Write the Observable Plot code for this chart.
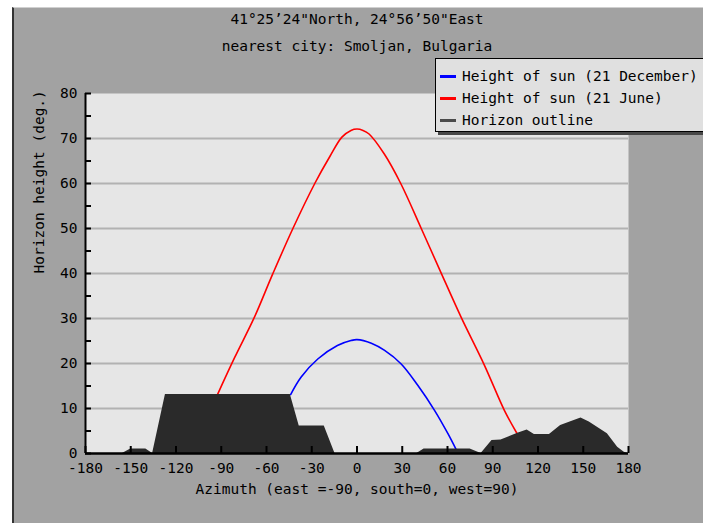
<!DOCTYPE html>
<html><head><meta charset="utf-8">
<script src="https://cdn.jsdelivr.net/npm/d3@7"></script>
<script src="https://cdn.jsdelivr.net/npm/@observablehq/plot@0.6"></script>
<style>
body{margin:0;background:#fff;}
#wrap{position:relative;width:703px;height:523px;overflow:hidden;background:#fff;font-family:"DejaVu Sans Mono",monospace;}
#panel{position:absolute;left:12px;top:7px;right:0;bottom:0;background:#a2a2a2;border-left:2px solid #333;border-top:1px solid #d0d0d0;}
#chart{position:absolute;left:0;top:0;}
#legend{position:absolute;left:435px;top:58px;width:300px;height:72px;background:#e0e0e0;border:1.5px solid #000;box-shadow:3px 3px 0 #474747;}
.row{position:absolute;left:4px;height:20px;display:flex;align-items:center;font-size:14.5px;color:#000;white-space:nowrap;}
.sw{width:16px;height:3px;margin-right:6px;}
</style></head>
<body>
<div id="wrap"><div id="panel"></div><div id="chart"></div><div id="legend"></div></div>
<script>
const titleLines = ["41°25’24\"North, 24°56’50\"East", "nearest city: Smoljan, Bulgaria"];
const xLabel = "Azimuth (east =-90, south=0, west=90)";
const yLabel = "Horizon height (deg.)";
const xTicks = [-180,-150,-120,-90,-60,-30,0,30,60,90,120,150,180];
const yTicks = [0,10,20,30,40,50,60,70,80];
const yMinorTicks = [0,5,10,15,20,25,30,35,40,45,50,55,60,65,70,75,80];
const gridLines = [10,20,30,40,50,60,70];
const legendLabels = ["Height of sun (21 December)", "Height of sun (21 June)", "Horizon outline"];
const legendColors = ["#0000ff", "#ff0000", "#4a4a4a"];

// Height of sun, 21 June (azimuth, height)
const juneAz = [-92.5,-81,-68,-56,-42.5,-28,-18,-10,-4,0,4,8,18,29,42.6,55,69,84.5,97.7,106];
const juneH  = [13.1,21.4,30.3,39.8,50,60,66,70.3,71.8,72.1,71.8,71,66.6,60,50,40.7,30.3,19.6,9.6,4.5];
// Height of sun, 21 December
const decAz = [-44,-37,-26,-13,-4,0,9.5,18.3,29.3,40.4,51.4,60.3,66];
const decH  = [13.1,17,21,24,25.1,25.3,24.5,22.9,19.9,15.1,9.6,4.4,0.7];
// Horizon outline
const horAz = [-180,-155.5,-150,-140,-135.5,-127,-44.2,-38.3,-21.7,-14.6,39.7,44.5,75,82.3,89.5,95.5,106.6,112.8,117.6,127.6,135,148.5,154,166,172.8,177.2,180];
const horH  = [0,0,1,1,0,13.1,13.1,6.1,6.1,0,0,1,1,0,2.9,3,4.5,5.2,4.2,4.2,6.2,7.9,7,4.4,1.4,0.3,0];

const june = juneAz.map((a,i)=>({az:a,h:juneH[i]}));
const dec = decAz.map((a,i)=>({az:a,h:decH[i]}));
const horizon = horAz.map((a,i)=>({az:a,h:horH[i]}));

const W=703,H=523,ML=85,MR=75,MT=93,MB=70;
const plotW=W-ML-MR, plotH=H-MT-MB;
const FS=14.5;
const font = "DejaVu Sans Mono, monospace";

const chart = Plot.plot({
  width:W,height:H,marginLeft:ML,marginRight:MR,marginTop:MT,marginBottom:MB,
  style:{background:"transparent",fontFamily:font,fontSize:FS+"px",color:"#000"},
  x:{domain:[-180,180]},
  y:{domain:[0,80]},
  marks:[
    Plot.frame({fill:"#e6e6e6",stroke:null}),
    Plot.ruleY(gridLines,{stroke:"#b2b2b2",strokeWidth:2}),
    Plot.line(june,{x:"az",y:"h",stroke:"#ff0000",strokeWidth:1.6,curve:"catmull-rom"}),
    Plot.line(dec,{x:"az",y:"h",stroke:"#0000ff",strokeWidth:1.6,curve:"catmull-rom"}),
    Plot.areaY(horizon,{x:"az",y:"h",fill:"#2a2a2a"}),
    Plot.ruleX([-180],{stroke:"#000",strokeWidth:2}),
    Plot.ruleY([0],{stroke:"#000",strokeWidth:2.5}),
    Plot.tickX(xTicks,{x:d=>d,stroke:"#000",strokeWidth:2,insetTop:plotH-7}),
    Plot.tickY(yMinorTicks,{y:d=>d,stroke:"#000",strokeWidth:2,insetRight:plotW-6}),
    Plot.axisX({ticks:xTicks,tickSize:0,tickPadding:9,label:null,fontSize:FS,tickFormat:d=>String(d)}),
    Plot.axisY({ticks:yTicks,tickSize:0,tickPadding:8,label:null,fontSize:FS}),
    Plot.text([xLabel],{text:d=>d,frameAnchor:"bottom",dy:40,fontSize:FS}),
    Plot.text([yLabel],{text:d=>d,frameAnchor:"left",dx:-46,rotate:-90,fontSize:FS}),
    Plot.text([titleLines[0]],{text:d=>d,frameAnchor:"top",dy:-80,fontSize:FS}),
    Plot.text([titleLines[1]],{text:d=>d,frameAnchor:"top",dy:-53,fontSize:FS})
  ]
});
document.getElementById("chart").appendChild(chart);

const leg = document.getElementById("legend");
const rowTops = [7,29,51];
legendLabels.forEach((lab,i)=>{
  const r=document.createElement("div"); r.className="row"; r.style.top=rowTops[i]+"px";
  const s=document.createElement("div"); s.className="sw"; s.style.background=legendColors[i];
  const t=document.createElement("span"); t.textContent=lab;
  r.appendChild(s); r.appendChild(t); leg.appendChild(r);
});
</script>
</body></html>
